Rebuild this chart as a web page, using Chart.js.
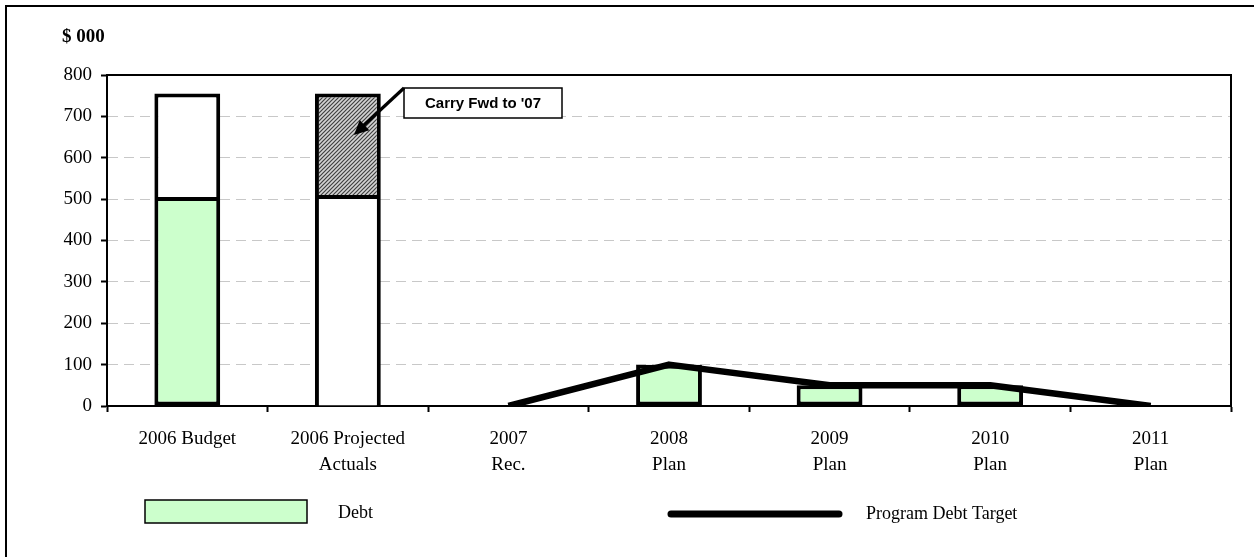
<!DOCTYPE html>
<html><head><meta charset="utf-8">
<script src="https://cdn.jsdelivr.net/npm/chart.js@4/dist/chart.umd.min.js"></script>
<style>html,body{margin:0;padding:0;background:#fff;overflow:hidden}canvas{display:block}</style>
</head><body>
<canvas id="c" width="1254" height="557"></canvas>
<script>
const categories = [["2006 Budget"],["2006 Projected","Actuals"],["2007","Rec."],["2008","Plan"],["2009","Plan"],["2010","Plan"],["2011","Plan"]];
const debt = [505, null, null, 100, 50, 50, null];
const uncommitted = [250, 510, null, null, null, null, null];
const carryFwd = [null, 245, null, null, null, null, null];
const programDebtTarget = [null, null, 0, 100, 50, 50, 0];
const yMin = 0, yMax = 800, yStep = 100;
const yUnitLabel = "$ 000";
const annotationText = "Carry Fwd to '07";
const legendDebt = "Debt";
const legendTarget = "Program Debt Target";

const SERIF = "'Liberation Serif','Times New Roman',serif";
const SANS = "'Liberation Sans',Arial,sans-serif";

function hatchPattern(){
  const p = document.createElement('canvas'); p.width = 4; p.height = 4;
  const g = p.getContext('2d');
  g.fillStyle = '#d4d4d4'; g.fillRect(0,0,4,4);
  g.strokeStyle = '#404040'; g.lineWidth = 1.2;
  g.beginPath();
  g.moveTo(0,4); g.lineTo(4,0);
  g.moveTo(-1,1); g.lineTo(1,-1);
  g.moveTo(3,5); g.lineTo(5,3);
  g.stroke();
  return g.createPattern(p,'repeat');
}

const decor = {
  id: 'decor',
  beforeDraw(chart){
    const ctx = chart.ctx;
    ctx.save(); ctx.fillStyle = '#fff'; ctx.fillRect(0,0,chart.width,chart.height); ctx.restore();
  },
  afterDraw(chart){
    const ctx = chart.ctx, a = chart.chartArea;
    ctx.save();
    // outer frame (top/left visible)
    ctx.strokeStyle = '#000'; ctx.lineWidth = 2;
    ctx.beginPath(); ctx.moveTo(6, chart.height); ctx.lineTo(6,6); ctx.lineTo(chart.width,6); ctx.stroke();
    // plot area border top & right
    ctx.beginPath(); ctx.moveTo(a.left, a.top); ctx.lineTo(a.right, a.top); ctx.lineTo(a.right, a.bottom); ctx.stroke();
    // unit label
    ctx.fillStyle = '#000'; ctx.font = "bold 19px " + SERIF; ctx.textBaseline = 'middle'; ctx.textAlign = 'left';
    ctx.fillText(yUnitLabel, 62, 37);
    // annotation
    ctx.fillStyle = '#fff'; ctx.fillRect(404, 88, 158, 30);
    ctx.lineWidth = 1.5; ctx.strokeRect(404, 88, 158, 30);
    ctx.fillStyle = '#000'; ctx.font = "bold 15px " + SANS; ctx.textAlign = 'center';
    ctx.fillText(annotationText, 483, 104);
    // arrow
    const x1 = 404, y1 = 88, x2 = 354, y2 = 135;
    ctx.lineWidth = 3.2;
    ctx.beginPath(); ctx.moveTo(x1,y1); ctx.lineTo(x2+8, y2-8); ctx.stroke();
    const ang = Math.atan2(y2-y1, x2-x1), L = 16, W = 0.45;
    ctx.beginPath(); ctx.moveTo(x2,y2);
    ctx.lineTo(x2 - L*Math.cos(ang-W), y2 - L*Math.sin(ang-W));
    ctx.lineTo(x2 - L*Math.cos(ang+W), y2 - L*Math.sin(ang+W));
    ctx.closePath(); ctx.fill();
    // legend
    const dsDebt = chart.data.datasets[1], dsLine = chart.data.datasets[0];
    ctx.fillStyle = dsDebt.backgroundColor; ctx.fillRect(145, 500, 162, 23);
    ctx.strokeStyle = '#000'; ctx.lineWidth = 1.5; ctx.strokeRect(145, 500, 162, 23);
    ctx.fillStyle = '#000'; ctx.font = "18px " + SERIF; ctx.textAlign = 'left'; ctx.textBaseline = 'middle';
    ctx.fillText(dsDebt.label, 338, 513);
    ctx.strokeStyle = dsLine.borderColor; ctx.lineWidth = 7; ctx.lineCap = 'round';
    ctx.beginPath(); ctx.moveTo(671, 514); ctx.lineTo(839, 514); ctx.stroke();
    ctx.fillText(dsLine.label, 866, 514);
    ctx.restore();
  }
};

new Chart(document.getElementById('c'), {
  data: {
    labels: categories,
    datasets: [
      { type:'line', label: legendTarget, data: programDebtTarget, borderColor:'#000', borderWidth:6.5,
        pointRadius:0, tension:0, fill:false, order:0, stack:'line', borderJoinStyle:'round' },
      { type:'bar', label: legendDebt, data: debt, backgroundColor:'#CCFFCC', borderColor:'#000',
        borderWidth:4, borderSkipped:false, order:1, stack:'bars' },
      { type:'bar', label: 'Other', data: uncommitted, backgroundColor:'#FFFFFF', borderColor:'#000',
        borderWidth:4, borderSkipped:'start', order:1, stack:'bars' },
      { type:'bar', label: 'Carry Fwd', data: carryFwd, backgroundColor: hatchPattern(), borderColor:'#000',
        borderWidth:4, borderSkipped:'start', order:1, stack:'bars' }
    ]
  },
  options: {
    responsive:false, animation:false, devicePixelRatio:1,
    layout:{ padding:{ top:75, right:23, left:0, bottom:0 } },
    datasets:{ bar:{ barPercentage:0.41, categoryPercentage:1 } },
    plugins:{ legend:{display:false}, tooltip:{enabled:false}, title:{display:false} },
    scales:{
      x:{
        stacked:true,
        afterFit(s){ s.height = 151; },
        grid:{ offset:true, drawOnChartArea:false, drawTicks:true, tickLength:6, tickColor:'#000', tickWidth:2 },
        border:{ display:true, color:'#000', width:2 },
        ticks:{ color:'#000', font:{ family:SERIF, size:19, lineHeight:1.37 }, padding:14, maxRotation:0, autoSkip:false }
      },
      y:{
        stacked:true, min:yMin, max:yMax,
        afterFit(s){ s.width = 107; },
        grid:{ color:'#c8c8c8', lineWidth:1, drawTicks:true, tickLength:6, tickColor:'#000', tickWidth:2 },
        border:{ display:true, color:'#000', width:2, dash:[10,6] },
        ticks:{ stepSize:yStep, color:'#000', font:{ family:SERIF, size:19 }, padding:9 }
      }
    }
  },
  plugins:[decor]
});
</script>
</body></html>
